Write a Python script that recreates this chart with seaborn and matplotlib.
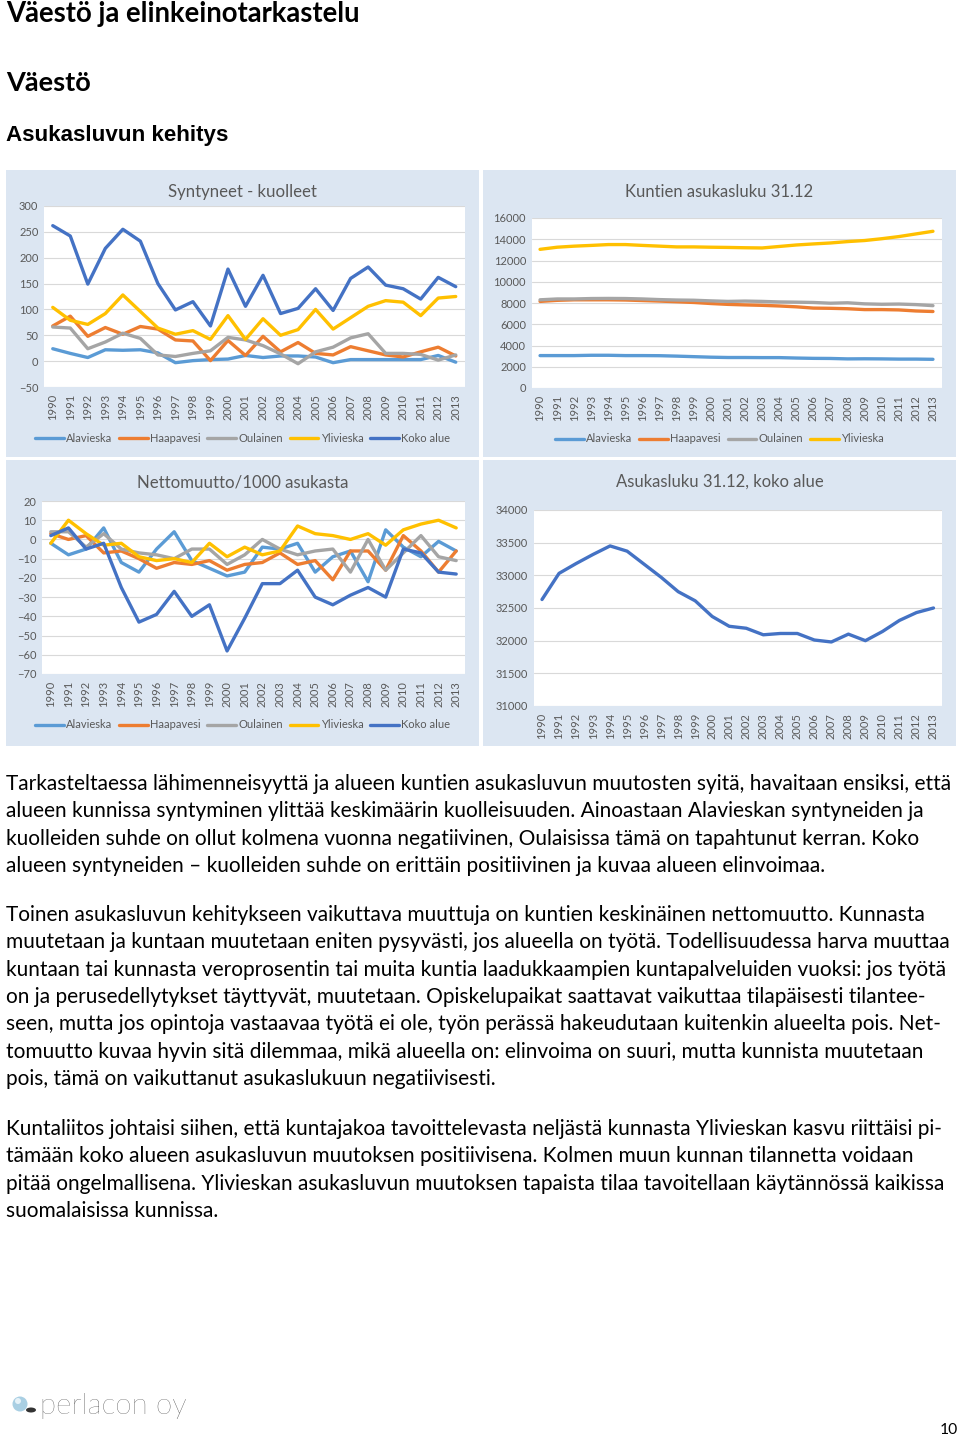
import matplotlib
matplotlib.use('Agg')
import matplotlib.pyplot as plt
import seaborn as sns
from matplotlib.patches import Rectangle, Ellipse
from matplotlib.lines import Line2D

# --- data (luettu kuvasta) ---
years = list(range(1990, 2014))
names = ['Alavieska', 'Haapavesi', 'Oulainen', 'Ylivieska', 'Koko alue']
colors = ['#5b9bd5', '#ed7d31', '#a5a5a5', '#ffc000', '#4472c4']

# Syntyneet - kuolleet
sk_alavieska = [24, 15, 7, 22, 21, 22, 16, -3, 1, 3, 4, 11, 7, 10, 10, 8, -3, 3, 3, 3, 3, 3, 11, -2]
sk_haapavesi = [68, 87, 48, 65, 52, 67, 62, 41, 39, 1, 40, 11, 48, 18, 36, 15, 12, 28, 20, 12, 8, 18, 27, 10]
sk_oulainen = [66, 64, 24, 37, 54, 44, 12, 9, 15, 20, 46, 41, 30, 14, -5, 18, 27, 45, 53, 15, 15, 13, 2, 12]
sk_ylivieska = [104, 79, 71, 92, 128, 96, 64, 52, 59, 42, 88, 42, 82, 50, 61, 100, 62, 84, 106, 117, 114, 88, 122, 125]
sk_koko = [262, 242, 149, 218, 255, 232, 150, 99, 115, 68, 178, 106, 166, 92, 102, 140, 98, 160, 182, 147, 140, 120, 162, 144]

# Kuntien asukasluku 31.12
as_alavieska = [3050, 3050, 3050, 3080, 3080, 3050, 3050, 3040, 3000, 2950, 2900, 2870,
                2870, 2860, 2860, 2820, 2790, 2780, 2740, 2750, 2740, 2720, 2720, 2700]
as_haapavesi = [8150, 8250, 8300, 8300, 8300, 8280, 8230, 8180, 8120, 8050, 7950, 7870,
                7820, 7780, 7720, 7640, 7520, 7500, 7460, 7380, 7380, 7350, 7250, 7200]
as_oulainen = [8300, 8380, 8380, 8420, 8430, 8420, 8380, 8320, 8280, 8260, 8200, 8150,
               8180, 8150, 8100, 8080, 8050, 7980, 8020, 7920, 7880, 7900, 7850, 7750]
as_ylivieska = [13050, 13250, 13350, 13420, 13500, 13500, 13420, 13350, 13280, 13280, 13250, 13230,
                13200, 13180, 13320, 13460, 13560, 13650, 13780, 13880, 14050, 14250, 14500, 14750]

# Nettomuutto/1000 asukasta
nm_alavieska = [-2, -8, -5, 6, -12, -17, -5, 4, -11, -15, -19, -17, -4, -5, -2, -17, -9, -6, -22, 5, -4, -9, -1, -6]
nm_haapavesi = [3, 0, 2, -7, -6, -10, -15, -12, -13, -11, -16, -13, -12, -7, -13, -11, -21, -6, -6, -16, 2, -6, -17, -6]
nm_oulainen = [4, 4, -4, 3, -5, -7, -8, -10, -5, -5, -13, -8, 0, -5, -8, -6, -5, -17, 0, -16, -7, 2, -9, -11]
nm_ylivieska = [-2, 10, 3, -3, -2, -9, -11, -10, -12, -2, -9, -4, -8, -6, 7, 3, 2, 0, 3, -3, 5, 8, 10, 6]
nm_koko = [2, 6, -5, -2, -25, -43, -39, -27, -40, -34, -58, -41, -23, -23, -16, -30, -34, -29, -25, -30, -5, -7, -17, -18]

# Asukasluku 31.12, koko alue
koko_asukasluku = [32630, 33030, 33180, 33320, 33450, 33370, 33170, 32970, 32750, 32610, 32370, 32220,
                   32190, 32090, 32110, 32110, 32010, 31980, 32100, 32000, 32140, 32310, 32430, 32500]

para1 = [
    'Tarkasteltaessa lähimenneisyyttä ja alueen kuntien asukasluvun muutosten syitä, havaitaan ensiksi, että',
    'alueen kunnissa syntyminen ylittää keskimäärin kuolleisuuden. Ainoastaan Alavieskan syntyneiden ja',
    'kuolleiden suhde on ollut kolmena vuonna negatiivinen, Oulaisissa tämä on tapahtunut kerran. Koko',
    'alueen syntyneiden – kuolleiden suhde on erittäin positiivinen ja kuvaa alueen elinvoimaa.',
]
para2 = [
    'Toinen asukasluvun kehitykseen vaikuttava muuttuja on kuntien keskinäinen nettomuutto. Kunnasta',
    'muutetaan ja kuntaan muutetaan eniten pysyvästi, jos alueella on työtä. Todellisuudessa harva muuttaa',
    'kuntaan tai kunnasta veroprosentin tai muita kuntia laadukkaampien kuntapalveluiden vuoksi: jos työtä',
    'on ja perusedellytykset täyttyvät, muutetaan. Opiskelupaikat saattavat vaikuttaa tilapäisesti tilantee-',
    'seen, mutta jos opintoja vastaavaa työtä ei ole, työn perässä hakeudutaan kuitenkin alueelta pois. Net-',
    'tomuutto kuvaa hyvin sitä dilemmaa, mikä alueella on: elinvoima on suuri, mutta kunnista muutetaan',
    'pois, tämä on vaikuttanut asukaslukuun negatiivisesti.',
]
para3 = [
    'Kuntaliitos johtaisi siihen, että kuntajakoa tavoittelevasta neljästä kunnasta Ylivieskan kasvu riittäisi pi-',
    'tämään koko alueen asukasluvun muutoksen positiivisena. Kolmen muun kunnan tilannetta voidaan',
    'pitää ongelmallisena. Ylivieskan asukasluvun muutoksen tapaista tilaa tavoitellaan käytännössä kaikissa',
    'suomalaisissa kunnissa.',
]

sns.set_theme(style='white')
plt.rcParams['font.family'] = ['Lato', 'DejaVu Sans']

W, H = 960, 1439
fig = plt.figure(figsize=(W / 100, H / 100), dpi=100)
renderer = fig.canvas.get_renderer()
grey = '#595959'


def box(x0, y0, x1, y1):
    return [x0 / W, 1 - y1 / H, (x1 - x0) / W, (y1 - y0) / H]


def fit_size(s, width, size=12, **kw):
    t = fig.text(0, 0, s, fontsize=size, **kw)
    w = t.get_window_extent(renderer).width
    t.remove()
    return size * width / w


def fit_text(x, y, s, width, **kw):
    size = fit_size(s, width, **kw)
    return fig.text(x / W, 1 - y / H, s, fontsize=size, **kw)


def line_chart(panel, rect, title, title_w, series, ylim, yticks, legend_y=None):
    x0, y0, x1, y1 = panel
    fig.add_artist(Rectangle((x0 / W, 1 - y1 / H), (x1 - x0) / W, (y1 - y0) / H,
                             transform=fig.transFigure, facecolor='#dce6f2',
                             edgecolor='none', zorder=-1))
    ax = fig.add_axes(box(*rect))
    ax.set_facecolor('white')
    handles = []
    for name, vals, color in series:
        sns.lineplot(x=years, y=vals, ax=ax, color=color, linewidth=2.4, legend=False)
        handles.append(Line2D([], [], color=color, linewidth=2.4, label=name))
    ax.set_xlim(1989.5, 2013.5)
    ax.set_ylim(*ylim)
    ax.set_xticks(years)
    ax.set_xticklabels([str(y) for y in years], rotation=90)
    ax.set_yticks(yticks)
    ax.set_xlabel('')
    ax.set_ylabel('')
    ax.yaxis.grid(True, color='#d9d9d9', linewidth=0.8)
    ax.set_axisbelow(True)
    for s in ax.spines.values():
        s.set_visible(False)
    ax.tick_params(axis='both', length=0, labelsize=8, colors=grey)
    ax.tick_params(axis='y', pad=4)
    ax.tick_params(axis='x', pad=5)
    cx = (x0 + x1) / 2
    fit_text(cx, y0 + 22, title, title_w, color=grey, ha='center', va='center')
    if legend_y is not None:
        fig.legend(handles=handles, loc='center', bbox_to_anchor=(cx / W, 1 - legend_y / H),
                   ncol=len(handles), frameon=False, fontsize=8, handlelength=2.6,
                   handletextpad=0.2, columnspacing=0.6, labelcolor=grey)
    return ax


# Syntyneet - kuolleet
line_chart((6, 170, 479, 457), (44, 206, 464.5, 387), 'Syntyneet - kuolleet', 148,
           list(zip(names, [sk_alavieska, sk_haapavesi, sk_oulainen, sk_ylivieska, sk_koko], colors)),
           (-50, 300), range(-50, 301, 50), legend_y=438)

# Kuntien asukasluku 31.12
line_chart((483, 170, 956, 457), (531.5, 218, 941.5, 388), 'Kuntien asukasluku 31.12', 188,
           list(zip(names[:4], [as_alavieska, as_haapavesi, as_oulainen, as_ylivieska], colors[:4])),
           (0, 16000), range(0, 16001, 2000), legend_y=439)

# Nettomuutto/1000 asukasta
line_chart((6, 460, 479, 746), (42, 501, 465, 674), 'Nettomuutto/1000 asukasta', 210,
           list(zip(names, [nm_alavieska, nm_haapavesi, nm_oulainen, nm_ylivieska, nm_koko], colors)),
           (-70, 20), range(-70, 21, 10), legend_y=725)

# Asukasluku 31.12, koko alue
line_chart((483, 460, 956, 746), (533.5, 510, 942, 706), 'Asukasluku 31.12, koko alue', 208,
           [('Koko alue', koko_asukasluku, colors[4])],
           (31000, 34000), range(31000, 34001, 500))

# Otsikot
fit_text(6, 22, 'Väestö ja elinkeinotarkastelu', 352, fontweight='bold', color='black', va='baseline')
fit_text(6, 91, 'Väestö', 84, fontweight='bold', color='black', va='baseline')
fit_text(6, 141, 'Asukasluvun kehitys', 221, fontweight='bold', color='black', va='baseline',
         family=['Liberation Sans', 'DejaVu Sans'])

# Leipäteksti
body_size = fit_size(para1[0], 942)
for lines, y_start in [(para1, 784), (para2, 915), (para3, 1129)]:
    for i, line in enumerate(lines):
        fig.text(6 / W, 1 - (y_start + i * 27.3) / H, line, fontsize=body_size,
                 color='black', va='center')

# Logo ja sivunumero
fig.add_artist(Ellipse((31 / W, 1 - 1410 / H), 10 / W, 5 / H, transform=fig.transFigure,
                       facecolor='#333333', edgecolor='none'))
fig.add_artist(Ellipse((20 / W, 1 - 1404 / H), 15 / W, 15 / H, transform=fig.transFigure,
                       facecolor='#a9cfe3', edgecolor='none'))
fig.add_artist(Ellipse((18 / W, 1 - 1401 / H), 6 / W, 6 / H, transform=fig.transFigure,
                       facecolor='#e6f2f8', edgecolor='none'))
fit_text(40, 1406, 'perlacon oy', 146, color='#333333', fontweight='light', va='center')
fit_text(958, 1430, '10', 18, color='black', ha='right', va='center')

fig.savefig('out.png', dpi=100)
